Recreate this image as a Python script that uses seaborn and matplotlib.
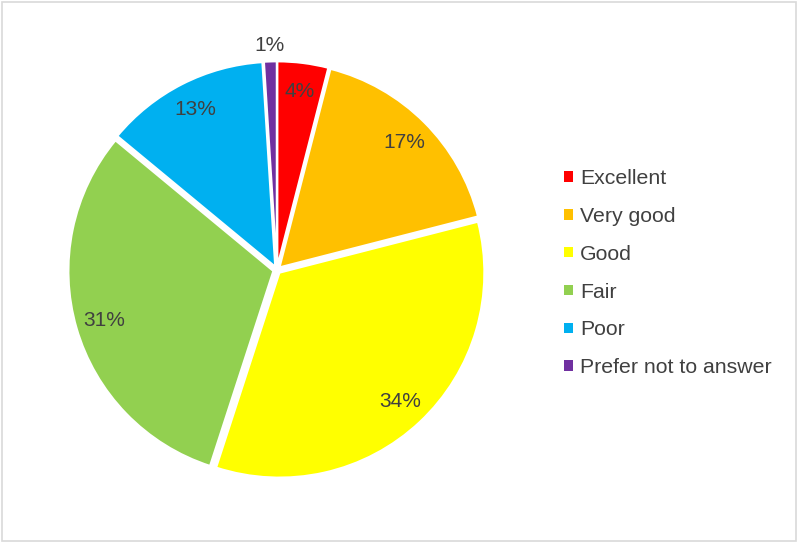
import matplotlib
matplotlib.use("Agg")
import matplotlib.pyplot as plt
import seaborn as sns
from matplotlib.patches import Patch, Rectangle

categories = ["Excellent", "Very good", "Good", "Fair", "Poor", "Prefer not to answer"]
shares = [4, 17, 34, 31, 13, 1]
colors = ["#FF0000", "#FFC000", "#FFFF00", "#92D050", "#00B0F0", "#7030A0"]

sns.set_theme(style="white")
plt.rcParams["font.family"] = ["Liberation Sans", "DejaVu Sans"]

fig = plt.figure(figsize=(7.98, 5.43), dpi=100)
ax = fig.add_axes([0.0645, 0.0875, 0.565, 0.8306])

wedges, texts, autotexts = ax.pie(
    shares,
    colors=colors,
    startangle=90,
    counterclock=False,
    explode=[0.018] * len(shares),
    autopct="%1.0f%%",
    pctdistance=0.86,
    wedgeprops=dict(edgecolor="white", linewidth=1.5),
    textprops=dict(color="#404040", fontsize=15),
)
# the tiny slice gets its label outside the pie
x, y = autotexts[-1].get_position()
autotexts[-1].set_position((x * 1.25, y * 1.25))

ax.set_xlim(-1.1, 1.1)
ax.set_ylim(-1.1, 1.1)
ax.set_aspect("equal")
ax.axis("off")

handles = [Patch(facecolor=c, edgecolor="none") for c in colors]
fig.legend(handles, categories, loc="center left", bbox_to_anchor=(0.683, 0.497),
           frameon=False, fontsize=15.3, handlelength=0.4, handleheight=0.4,
           handletextpad=0.35, labelspacing=0.89, labelcolor="#404040")

fig.patches.append(Rectangle((0.003, 0.004), 0.994, 0.993, transform=fig.transFigure,
                             fill=False, edgecolor="#D9D9D9", linewidth=1.2))

fig.savefig("out.png", dpi=100)
